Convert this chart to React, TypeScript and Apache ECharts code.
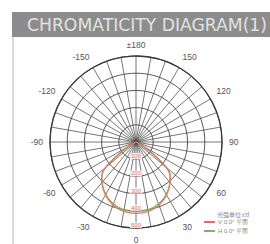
import React, { useEffect, useRef } from "react";
import * as echarts from "echarts";

const titleText = "CHROMATICITY DIAGRAM(1)";
const unitText = "光强单位:cd";
const seriesNames = ["V 0.0° 平面", "H 0.0° 平面"];
const angles = [
  -90, -85, -80, -75, -70, -65, -60, -55, -50, -45, -40, -35, -30, -25, -20, -15, -10, -5,
  0, 5, 10, 15, 20, 25, 30, 35, 40, 45, 50, 55, 60, 65, 70, 75, 80, 85, 90,
];
const vValues = [
  0, 0, 0, 0, 0, 12, 40, 115, 230, 282, 308, 333, 355, 374, 390, 402, 410, 414,
  415, 414, 410, 402, 390, 374, 355, 333, 308, 282, 230, 115, 40, 12, 0, 0, 0, 0, 0,
];
const hValues = [
  0, 0, 0, 0, 0, 12, 42, 118, 232, 280, 306, 330, 350, 368, 382, 393, 400, 404,
  405, 404, 400, 393, 382, 368, 350, 330, 306, 280, 232, 118, 42, 12, 0, 0, 0, 0, 0,
];
const radiusTicks = [100, 200, 300, 400, 500];

const toAxis = (a: number) => (a < 0 ? 360 + a : a);

export default function App() {
  const ref = useRef<HTMLDivElement>(null);
  useEffect(() => {
    if (!ref.current) return;
    const chart = echarts.init(ref.current, null, { renderer: "svg" });
    const mk = (vals: number[]) => angles.map((a, i) => [vals[i], toAxis(a)]);
    chart.setOption({
      animation: false,
      backgroundColor: "#ffffff",
      polar: { center: [136, 142], radius: 86 },
      angleAxis: {
        type: "value",
        min: 0,
        max: 360,
        interval: 10,
        startAngle: 270,
        clockwise: false,
        axisLine: { show: true, lineStyle: { color: "#3a3a3a", width: 1.3 } },
        axisTick: { show: false },
        splitLine: { show: true, lineStyle: { color: "#4a4a4a", width: 0.75 } },
        axisLabel: {
          margin: 7,
          fontSize: 8.5,
          color: "#555555",
          fontFamily: "Liberation Sans, Arial, sans-serif",
          formatter: (v: number) => {
            if (v % 30 !== 0 || v === 360) return "";
            if (v === 180) return "±180";
            if (v > 180) return "-" + (360 - v);
            return String(v);
          },
        },
      },
      radiusAxis: {
        type: "value",
        min: 0,
        max: 500,
        interval: 100,
        axisLine: { show: false },
        axisTick: { show: false },
        splitLine: { show: true, lineStyle: { color: "#444444", width: 0.9 } },
        axisLabel: {
          show: true,
          margin: 0,
          align: "center",
          verticalAlign: "bottom",
          fontSize: 6,
          color: "#e06a6a",
          backgroundColor: "rgba(255,255,255,0.85)",
          padding: [0, 1],
          formatter: (v: number) => (radiusTicks.includes(v) ? String(v) : ""),
        },
      },
      legend: {
        orient: "vertical",
        left: 204,
        top: 219,
        itemWidth: 11,
        itemHeight: 2,
        itemGap: 3,
        icon: "rect",
        padding: 0,
        textStyle: { fontSize: 6, color: "#888888", padding: [0, 0, 0, -2] },
        data: seriesNames,
      },
      graphic: [
        { type: "rect", left: 12, top: 12, shape: { width: 258, height: 25 }, style: { fill: "#8c8c8c" } },
        { type: "rect", left: 12, top: 37, shape: { width: 2, height: 207 }, style: { fill: "#dadada" } },
        {
          type: "text",
          left: 27,
          top: 16,
          style: {
            text: titleText,
            fill: "#e2e2e2",
            font: "17.2px 'DejaVu Sans', Verdana, sans-serif",
          },
        },
        {
          type: "text",
          left: 217,
          top: 211,
          style: { text: unitText, fill: "#888888", font: "6px 'Noto Sans CJK SC', sans-serif" },
        },
      ],
      series: [
        {
          name: seriesNames[0],
          type: "line",
          coordinateSystem: "polar",
          data: mk(vValues),
          showSymbol: false,
          smooth: 0.3,
          lineStyle: { color: "#de7a5e", width: 1.3 },
          itemStyle: { color: "#e86b6b" },
          z: 4,
        },
        {
          name: seriesNames[1],
          type: "line",
          coordinateSystem: "polar",
          data: mk(hValues),
          showSymbol: false,
          smooth: 0.3,
          lineStyle: { color: "#7fb069", width: 1.1 },
          itemStyle: { color: "#7fb069" },
          z: 3,
        },
      ],
    });
    return () => chart.dispose();
  }, []);
  return (
    <div
      ref={ref}
      style={{ position: "fixed", left: 0, top: 0, width: 270, height: 244 }}
    />
  );
}
